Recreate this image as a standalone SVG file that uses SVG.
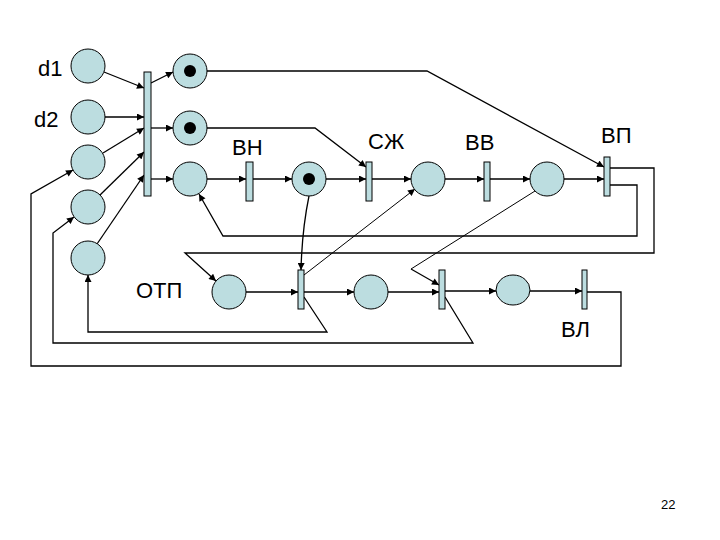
<svg xmlns="http://www.w3.org/2000/svg" width="720" height="540" viewBox="0 0 720 540">
<defs>
<style>
.pl{fill:#bcdde0;stroke:#000;stroke-width:1}
.tr{fill:#bcdde0;stroke:#000;stroke-width:1}
.tk{fill:#000}
.c{fill:none;stroke:#000;stroke-width:1.3}
.a{marker-end:url(#ah)}
.th{stroke-width:1}
.lb{font-family:"Liberation Sans",Arial,sans-serif;font-size:22px;fill:#000}
</style>
<marker id="ah" viewBox="0 0 10 10" refX="10" refY="5" markerWidth="8" markerHeight="7" orient="auto" markerUnits="userSpaceOnUse"><path d="M0,0L10,5L0,10z" fill="#000"/></marker>
</defs>
<rect width="720" height="540" fill="#fff"/>
<g id="connectors">
<path class="c a" d="M104,72L144,88"/>
<path class="c a" d="M105,117L144,117"/>
<path class="c a" d="M103,153L144,128"/>
<path class="c a" d="M100,195L144,152"/>
<path class="c a" d="M97,244L144,175"/>
<path class="c a" d="M151,83L173,72"/>
<path class="c a" d="M151,128L173,128"/>
<path class="c a" d="M151,179L173,179"/>
<path class="c a" d="M207,71H427L604,167"/>
<path class="c a" d="M207,128H315L366,167"/>
<path class="c a" d="M207,179H246"/>
<path class="c a" d="M253,179H292"/>
<path class="c a" d="M326,179H366"/>
<path class="c a" d="M372,179H411"/>
<path class="c a" d="M445,179H484"/>
<path class="c a" d="M490,179H530"/>
<path class="c a" d="M564,179H604"/>
<path class="c a" d="M610,168H654V253H185L216,281"/>
<path class="c a" d="M610,185H637V236H223L199,194"/>
<path class="c a" d="M309,196Q302,230 301,270"/>
<path class="c th a" d="M304,275L415,189"/>
<path class="c a" d="M246,292H298"/>
<path class="c a" d="M304,292H354"/>
<path class="c a" d="M304,297L327,332H88V275"/>
<path class="c a" d="M388,292H439"/>
<path class="c th" d="M535,191L411,269"/>
<path class="c a" d="M411,269L439,285"/>
<path class="c a" d="M445,291H496"/>
<path class="c a" d="M445,297L473,343H53V233L74,217"/>
<path class="c a" d="M530,291H582"/>
<path class="c a" d="M587,292H621V366H31V194L73,170"/>
</g>
<g id="L1"><circle class="pl" cx="88" cy="66" r="17"/></g>
<g id="L2"><circle class="pl" cx="88" cy="117" r="17"/></g>
<g id="L3"><circle class="pl" cx="88" cy="162" r="17"/></g>
<g id="L4"><circle class="pl" cx="88" cy="207" r="17"/></g>
<g id="L5"><circle class="pl" cx="88" cy="258" r="17"/></g>
<g id="T0"><rect class="tr" x="144" y="72" width="7" height="124"/></g>
<g id="P1"><circle class="pl" cx="190" cy="71" r="17"/><circle class="tk" cx="190" cy="71" r="6"/></g>
<g id="P2"><circle class="pl" cx="190" cy="128" r="17"/><circle class="tk" cx="190" cy="128" r="6"/></g>
<g id="P3"><circle class="pl" cx="190" cy="179" r="17"/></g>
<g id="TBH"><rect class="tr" x="246" y="162" width="7" height="39"/></g>
<g id="P4"><circle class="pl" cx="309" cy="179" r="17"/><circle class="tk" cx="309" cy="179" r="6"/></g>
<g id="TSZ"><rect class="tr" x="366" y="162" width="6" height="39"/></g>
<g id="P5"><circle class="pl" cx="428" cy="179" r="17"/></g>
<g id="TBB"><rect class="tr" x="484" y="162" width="6" height="39"/></g>
<g id="P6"><circle class="pl" cx="547" cy="179" r="17"/></g>
<g id="TBP"><rect class="tr" x="604" y="157" width="6" height="39"/></g>
<g id="POTP"><circle class="pl" cx="229" cy="292" r="17"/></g>
<g id="T1"><rect class="tr" x="298" y="270" width="6" height="39"/></g>
<g id="P7"><circle class="pl" cx="371" cy="292" r="17"/></g>
<g id="T2"><rect class="tr" x="439" y="270" width="6" height="39"/></g>
<g id="P8"><ellipse class="pl" cx="513" cy="290" rx="17" ry="15"/></g>
<g id="TBL"><rect class="tr" x="582" y="270" width="5" height="39"/></g>
<g id="labels">
<text class="lb" x="38" y="76">d1</text>
<text class="lb" x="34" y="127">d2</text>
<text class="lb" x="232" y="155">ВН</text>
<text class="lb" x="368" y="149">СЖ</text>
<text class="lb" x="465" y="150">ВВ</text>
<text class="lb" x="601" y="143">ВП</text>
<text class="lb" x="136" y="298">ОТП</text>
<text class="lb" x="561" y="337">ВЛ</text>
<text x="661" y="509" style="font-family:'Liberation Sans',Arial,sans-serif;font-size:13px">22</text>
</g>
</svg>
